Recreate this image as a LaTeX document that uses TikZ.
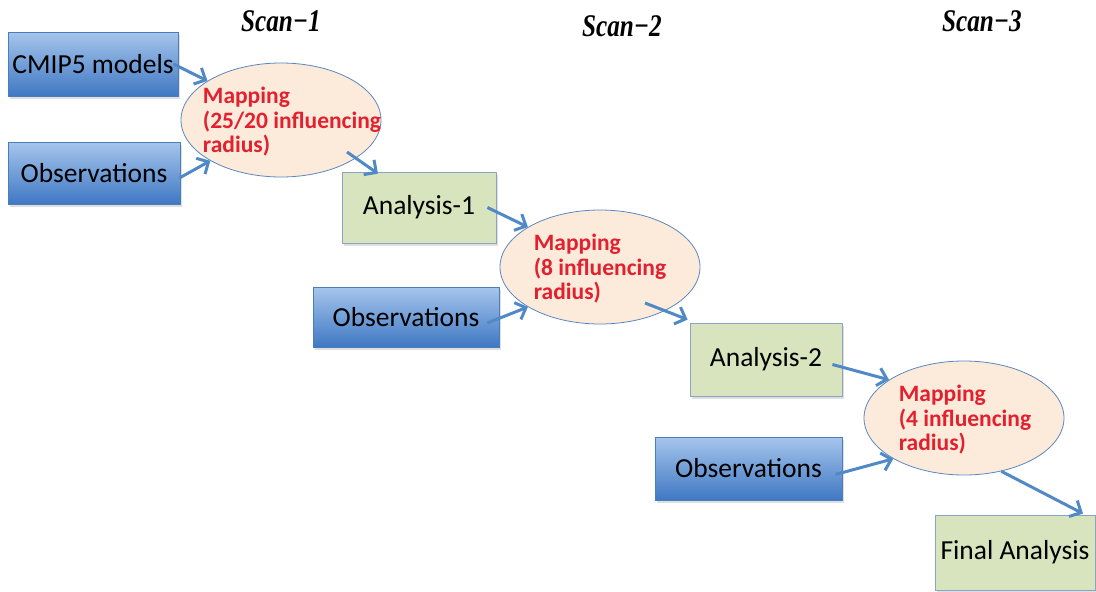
\documentclass[tikz,border=0pt]{standalone}
\usepackage{fontspec}
\setmainfont{Carlito}
\newfontfamily\scanfont{Liberation Serif}
\usetikzlibrary{arrows.meta,shapes.geometric,shadows,calc}
\definecolor{arrblue}{HTML}{5089C6}
\definecolor{boxtop}{HTML}{A6C5EC}
\definecolor{boxbot}{HTML}{3F78C3}
\definecolor{boxline}{HTML}{4A7EBB}
\definecolor{greenfill}{HTML}{D7E4BD}
\definecolor{greenline}{HTML}{8BA3C4}
\definecolor{peach}{HTML}{FCEADB}
\definecolor{ellline}{HTML}{5B87BF}
\definecolor{mapred}{HTML}{E2202E}
\tikzset{
  bluebox/.style={draw=boxline, line width=0.8pt, top color=boxtop, bottom color=boxbot,
    drop shadow={opacity=0.25, shadow xshift=1.5pt, shadow yshift=-2.5pt},
    inner sep=0pt, font=\fontsize{27.5}{30}\selectfont, text=black},
  greenbox/.style={draw=greenline, line width=0.8pt, fill=greenfill,
    drop shadow={opacity=0.25, shadow xshift=1.5pt, shadow yshift=-2.5pt},
    inner sep=0pt, font=\fontsize{27.5}{30}\selectfont, text=black},
  mapell/.style={ellipse, draw=ellline, line width=0.8pt, fill=peach, inner sep=0pt,
    minimum width=200pt, minimum height=114pt},
  maptext/.style={align=left, text=mapred, inner sep=0pt,
    font=\bfseries\fontsize{23.5}{24.5}\selectfont},
  arr/.style={draw=arrblue, line width=3pt, -{Straight Barb[length=9pt,width=18pt,line width=3pt]}},
  scanlbl/.style={font=\scanfont\bfseries\itshape\fontsize{30}{32}\selectfont, inner sep=0pt, anchor=base}
}
\begin{document}
\begin{tikzpicture}[x=1pt,y=-1pt]
\useasboundingbox (0,0) rectangle (1096,592);
% scan labels
\node[scanlbl] (s1) at (281,31) {\scalebox{0.84}[1.05]{Scan−1}};
\node[scanlbl] (s2) at (622,36) {\scalebox{0.84}[1.05]{Scan−2}};
\node[scanlbl] (s3) at (982,31) {\scalebox{0.84}[1.05]{Scan−3}};
% boxes
\node[bluebox, minimum width=170pt, minimum height=64pt] (cmip) at (93,64) {CMIP5 models};
\node[bluebox, minimum width=172pt, minimum height=62pt] (obs1) at (94,173) {Observations};
\node[greenbox, minimum width=154pt, minimum height=71pt] (a1) at (419,207.5) {Analysis-1};
\node[bluebox, minimum width=186pt, minimum height=60pt] (obs2) at (406,317) {Observations};
\node[greenbox, minimum width=152pt, minimum height=73pt] (a2) at (766,359.5) {Analysis-2};
\node[bluebox, minimum width=187pt, minimum height=63pt] (obs3) at (748.5,468.5) {Observations};
\node[greenbox, minimum width=160pt, minimum height=75pt] (fin) at (1015,552.5) {Final Analysis};
% ellipses
\node[mapell, label={[maptext, xshift=11pt, yshift=-2pt]center:Mapping\\(25/20 influencing\\radius)}] (m1) at (281,120) {};
\node[mapell, label={[maptext, xshift=0pt, yshift=-2pt]center:Mapping\\(8 influencing\\radius)}] (m2) at (600,267) {};
\node[mapell, label={[maptext, xshift=1pt, yshift=-2pt]center:Mapping\\(4 influencing\\radius)}] (m3) at (964,418) {};
% arrows
\draw[arr] ([xshift=-5pt]cmip.east) -- (m1.152);
\draw[arr] ([xshift=-1pt,yshift=-5pt]obs1.east) -- (m1.210);
\draw[arr] ([xshift=66pt,yshift=-32pt]m1.center) -- ([xshift=-41pt,yshift=-2pt]a1.north);
\draw[arr] ([xshift=-9pt]a1.east) -- (m2.151);
\draw[arr] ([xshift=-12pt,yshift=-6pt]obs2.east) -- (m2.209);
\draw[arr] ([xshift=45pt,yshift=-36pt]m2.center) -- ([xshift=-2pt,yshift=3pt]a2.north west);
\draw[arr] ([xshift=-10pt,yshift=-5pt]a2.east) -- (m3.153);
\draw[arr] ([xshift=-7pt,yshift=-6pt]obs3.east) -- (m3.210);
\draw[arr] (m3.-55) -- ([xshift=68pt,yshift=1pt]fin.north);
\end{tikzpicture}
\end{document}
